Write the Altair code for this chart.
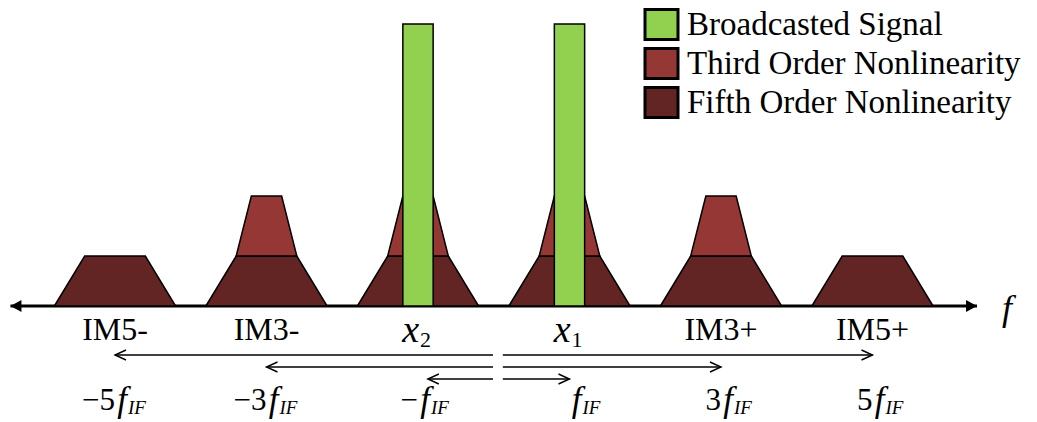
import altair as alt
import pandas as pd

W, H = 1037, 422

# Frequency positions, in multiples of f_IF
centers = [-5, -3, -1, 1, 3, 5]
tick_names = ["IM5-", "IM3-", "x", "x", "IM3+", "IM5+"]
tick_subs = ["", "", "2", "1", "", ""]
freq_prefix = ["\u22125", "\u22123", "\u2212", "", "3", "5"]

series_names = ["Broadcasted Signal", "Third Order Nonlinearity", "Fifth Order Nonlinearity"]
series_colors = ["#92D050", "#953735", "#632523"]

# Fifth order products (every position)
fifth_centers = [-5, -3, -1, 1, 3, 5]
fifth_height = 1.0
fifth_half_base = 0.8
fifth_half_top = 0.4

# Third order products, stacked on the fifth order ones
third_centers = [-3, -1, 1, 3]
third_height = 2.2
third_half_top = 0.2

# Broadcast tones
signal_centers = [-1, 1]
signal_height = 5.64
signal_half_width = 0.2

# Offset arrows below the axis: harmonic order and tip positions
arrow_orders = [5, 3, 1]
arrow_left_tips = [-5, -3, -0.87]
arrow_right_tips = [5, 3, 1]
arrow_origin_left = -0.01
arrow_origin_right = 0.12

axis_extent = 6.38

# ---------------------------------------------------------------- tables
trap_rows = []
for i, c in enumerate(fifth_centers):
    verts = [(-fifth_half_base, 0), (-fifth_half_top, fifth_height),
             (fifth_half_top, fifth_height), (fifth_half_base, 0)]
    for k, (dx, y) in enumerate(verts):
        trap_rows.append(dict(id=f"5_{i}", k=k, x=c + dx, y=y, y2=0.0,
                              series=series_names[2]))
fifth_df = pd.DataFrame(trap_rows)

trap_rows = []
for i, c in enumerate(third_centers):
    verts = [(-fifth_half_top, fifth_height), (-third_half_top, third_height),
             (third_half_top, third_height), (fifth_half_top, fifth_height)]
    for k, (dx, y) in enumerate(verts):
        trap_rows.append(dict(id=f"3_{i}", k=k, x=c + dx, y=y, y2=fifth_height,
                              series=series_names[1]))
third_df = pd.DataFrame(trap_rows)

signal_df = pd.DataFrame({
    "x": [c - signal_half_width for c in signal_centers],
    "x2": [c + signal_half_width for c in signal_centers],
    "y": [0.0] * len(signal_centers),
    "y2": [signal_height] * len(signal_centers),
    "series": [series_names[0]] * len(signal_centers),
})

ticks_df = pd.DataFrame({"x": centers, "name": tick_names, "sub": tick_subs,
                         "prefix": freq_prefix, "base": 0.0})

axis_df = pd.DataFrame({"x": [-axis_extent], "x2": [axis_extent], "base": [0.0]})
axis_ends = pd.DataFrame({"x": [-axis_extent, axis_extent], "dir": ["L", "R"], "base": [0.0, 0.0]})

arrow_rows = []
for o, lt, rt in zip(arrow_orders, arrow_left_tips, arrow_right_tips):
    arrow_rows.append(dict(order=o, start=arrow_origin_left, tip=lt, dir="L"))
    arrow_rows.append(dict(order=o, start=arrow_origin_right, tip=rt, dir="R"))
arrows_df = pd.DataFrame(arrow_rows)

# ---------------------------------------------------------------- scales
XS = alt.Scale(domain=[-493.75 / 75.75, (W - 493.75) / 75.75], nice=False, zero=False)
YS = alt.Scale(domain=[-(H - 306) / 50, 306 / 50], nice=False, zero=False)
Y_ARROW = alt.Scale(domain=[1, 5], range=[379, 355], nice=False, zero=False)

SERIF = "Liberation Serif"

RECT_PATH = "M-1.1,-1H1.1V1H-1.1Z"
legend = alt.Legend(
    title=None, orient="none", legendX=645, legendY=8,
    symbolType=RECT_PATH, symbolSize=900, symbolStrokeColor="black",
    symbolStrokeWidth=3, symbolOpacity=1,
    labelFont=SERIF, labelFontSize=33, labelColor="black",
    labelOffset=9, labelLimit=600, rowPadding=-4, padding=0,
)
FILL = alt.Fill("series:N", scale=alt.Scale(domain=series_names, range=series_colors),
                legend=legend)

X = lambda f: alt.X(f, scale=XS, axis=None)
Y = lambda f: alt.Y(f, scale=YS, axis=None, stack=None)

# ---------------------------------------------------------------- layers
axis_line = alt.Chart(axis_df).mark_rule(color="black", strokeWidth=3).encode(
    x=X("x:Q"), x2="x2:Q", y=Y("base:Q"))

head_L = "M0,0L1.1,-0.6L1.1,0.6Z"
head_R = "M0,0L-1.1,-0.6L-1.1,0.6Z"
axis_head_L = alt.Chart(axis_ends).transform_filter("datum.dir == 'L'").mark_point(
    shape=head_L, filled=True, color="black", size=400, opacity=1).encode(
    x=X("x:Q"), y=Y("base:Q"))
axis_head_R = alt.Chart(axis_ends).transform_filter("datum.dir == 'R'").mark_point(
    shape=head_R, filled=True, color="black", size=400, opacity=1).encode(
    x=X("x:Q"), y=Y("base:Q"))

fifth = alt.Chart(fifth_df).mark_area(stroke="black", strokeWidth=1.5, opacity=1,
                                      interpolate="linear").encode(
    x=X("x:Q"), y=Y("y:Q"), y2="y2:Q", detail="id:N", fill=FILL)
third = alt.Chart(third_df).mark_area(stroke="black", strokeWidth=1.5, opacity=1,
                                      interpolate="linear").encode(
    x=X("x:Q"), y=Y("y:Q"), y2="y2:Q", detail="id:N", fill=FILL)
signal = alt.Chart(signal_df).mark_rect(stroke="black", strokeWidth=1.5, opacity=1).encode(
    x=X("x:Q"), x2="x2:Q", y=Y("y:Q"), y2="y2:Q", fill=FILL)

f_label = alt.Chart(axis_ends).transform_filter("datum.dir == 'R'").mark_text(
    text="f", font=SERIF, fontStyle="italic", fontSize=36, align="center",
    baseline="alphabetic", dx=30, dy=14, color="black").encode(
    x=X("x:Q"), y=Y("base:Q"))

im_labels = alt.Chart(ticks_df).transform_filter("datum.sub == ''").mark_text(
    font=SERIF, fontSize=32, align="center", baseline="alphabetic", dy=34,
    color="black").encode(x=X("x:Q"), y=Y("base:Q"), text="name:N")
x_labels = alt.Chart(ticks_df).transform_filter("datum.sub != ''").mark_text(
    font=SERIF, fontStyle="italic", fontSize=38, align="right", baseline="alphabetic",
    dx=1, dy=36, color="black").encode(x=X("x:Q"), y=Y("base:Q"), text="name:N")
x_subs = alt.Chart(ticks_df).transform_filter("datum.sub != ''").mark_text(
    font=SERIF, fontSize=22, align="left", baseline="alphabetic",
    dx=2, dy=41, color="black").encode(x=X("x:Q"), y=Y("base:Q"), text="sub:N")

freq_pre = alt.Chart(ticks_df).mark_text(
    font=SERIF, fontSize=31, align="right", baseline="alphabetic",
    dx=0, dy=104, color="black").encode(x=X("x:Q"), y=Y("base:Q"), text="prefix:N")
freq_f = alt.Chart(ticks_df).mark_text(
    text="f", font=SERIF, fontStyle="italic", fontSize=35, align="right",
    baseline="alphabetic", dx=12, dy=105, color="black").encode(
    x=X("x:Q"), y=Y("base:Q"))
freq_sub = alt.Chart(ticks_df).mark_text(
    text="IF", font=SERIF, fontStyle="italic", fontSize=19, align="left",
    baseline="alphabetic", dx=13, dy=108, color="black").encode(
    x=X("x:Q"), y=Y("base:Q"))

arrow_lines = alt.Chart(arrows_df).mark_rule(color="black", strokeWidth=1.4).encode(
    x=X("start:Q"), x2="tip:Q", y=alt.Y("order:Q", scale=Y_ARROW, axis=None))
open_L = "M1.1,-0.5L0,0L1.1,0.5"
open_R = "M-1.1,-0.5L0,0L-1.1,0.5"
arrow_heads_L = alt.Chart(arrows_df).transform_filter("datum.dir == 'L'").mark_point(
    shape=open_L, filled=False, color="black", strokeWidth=1.4, size=400, opacity=1).encode(
    x=X("tip:Q"), y=alt.Y("order:Q", scale=Y_ARROW, axis=None))
arrow_heads_R = alt.Chart(arrows_df).transform_filter("datum.dir == 'R'").mark_point(
    shape=open_R, filled=False, color="black", strokeWidth=1.4, size=400, opacity=1).encode(
    x=X("tip:Q"), y=alt.Y("order:Q", scale=Y_ARROW, axis=None))

chart = alt.layer(
    axis_line, axis_head_L, axis_head_R,
    fifth, third, signal,
    f_label, im_labels, x_labels, x_subs,
    arrow_lines, arrow_heads_L, arrow_heads_R,
    freq_pre, freq_f, freq_sub,
).resolve_scale(y="independent").properties(
    width=W, height=H, autosize=alt.AutoSizeParams(type="none"), padding=0,
    background="white",
).configure_view(stroke=None)

chart.save("out.html", embed_options={"renderer": "svg", "actions": False})
